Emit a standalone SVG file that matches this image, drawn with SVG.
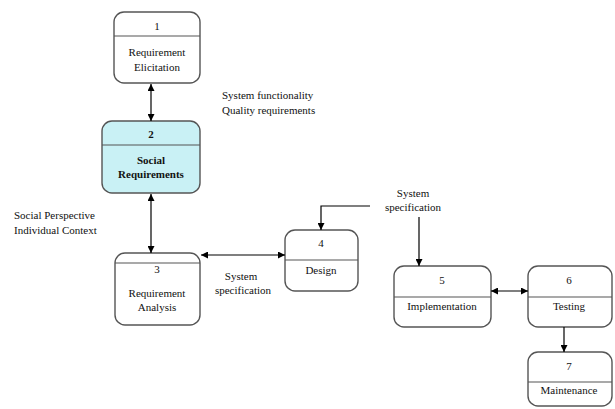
<svg xmlns="http://www.w3.org/2000/svg" width="615" height="409" viewBox="0 0 615 409" font-family="'Liberation Serif', 'Times New Roman', 'DejaVu Serif', serif" font-size="11">
  <defs>
    <marker id="arrow" viewBox="0 0 10 10" refX="10" refY="5" markerWidth="7" markerHeight="7" orient="auto-start-reverse" markerUnits="userSpaceOnUse">
      <path d="M0,0 L10,5 L0,10 z" fill="#000"/>
    </marker>
  </defs>
  <style>
    .box { fill: #ffffff; stroke: #555555; stroke-width: 1.4; }
    .hl { fill: #c9f1f5; }
    .div { stroke: #555555; stroke-width: 1.2; }
    text { fill: #111111; }
    .c { text-anchor: middle; }
    .b { font-weight: bold; }
    .ln { fill: none; stroke: #000000; stroke-width: 1.2; }
  </style>
  <rect width="615" height="409" fill="#ffffff"/>

  <g id="node1">
    <rect class="box" x="114" y="12" width="86" height="71" rx="10"/>
    <line class="div" x1="114" y1="36" x2="200" y2="36"/>
    <text class="c" x="157" y="30">1</text>
    <text class="c" x="157" y="56">Requirement</text>
    <text class="c" x="157" y="71">Elicitation</text>
  </g>

  <g id="node2">
    <rect class="box hl" x="102" y="121" width="98" height="72" rx="10"/>
    <line class="div" x1="102" y1="145" x2="200" y2="145"/>
    <text class="c b" x="151" y="138">2</text>
    <text class="c b" x="151" y="164">Social</text>
    <text class="c b" x="151" y="178">Requirements</text>
  </g>

  <g id="node3">
    <rect class="box" x="115" y="253" width="85" height="72" rx="10"/>
    <line class="div" x1="115" y1="263" x2="200" y2="263"/>
    <text class="c" x="157" y="273">3</text>
    <text class="c" x="157" y="297">Requirement</text>
    <text class="c" x="157" y="311">Analysis</text>
  </g>

  <g id="node4">
    <rect class="box" x="285" y="230" width="73" height="61" rx="10"/>
    <line class="div" x1="285" y1="260" x2="358" y2="260"/>
    <text class="c" x="321" y="247">4</text>
    <text class="c" x="321" y="274">Design</text>
  </g>

  <g id="node5">
    <rect class="box" x="394" y="266" width="97" height="61" rx="10"/>
    <line class="div" x1="394" y1="297" x2="491" y2="297"/>
    <text class="c" x="442" y="284">5</text>
    <text class="c" x="442" y="310">Implementation</text>
  </g>

  <g id="node6">
    <rect class="box" x="528" y="266" width="84" height="61" rx="10"/>
    <line class="div" x1="528" y1="297" x2="612" y2="297"/>
    <text class="c" x="569" y="284">6</text>
    <text class="c" x="569" y="310">Testing</text>
  </g>

  <g id="node7">
    <rect class="box" x="528" y="352" width="84" height="54" rx="10"/>
    <line class="div" x1="528" y1="382" x2="612" y2="382"/>
    <text class="c" x="569" y="370">7</text>
    <text class="c" x="569" y="394">Maintenance</text>
  </g>

  <g id="connectors">
    <line class="ln" x1="151" y1="84" x2="151" y2="121" marker-start="url(#arrow)" marker-end="url(#arrow)"/>
    <line class="ln" x1="151" y1="194" x2="151" y2="253" marker-start="url(#arrow)" marker-end="url(#arrow)"/>
    <line class="ln" x1="201" y1="255" x2="285" y2="255" marker-start="url(#arrow)" marker-end="url(#arrow)"/>
    <polyline class="ln" points="370,206 321,206 321,230" marker-end="url(#arrow)"/>
    <line class="ln" x1="419" y1="217" x2="419" y2="266" marker-end="url(#arrow)"/>
    <line class="ln" x1="491" y1="291" x2="528" y2="291" marker-start="url(#arrow)" marker-end="url(#arrow)"/>
    <line class="ln" x1="564" y1="327" x2="564" y2="352" marker-end="url(#arrow)"/>
  </g>

  <g id="labels">
    <text x="222" y="99">System functionality</text>
    <text x="222" y="114">Quality requirements</text>
    <text x="14" y="219">Social Perspective</text>
    <text x="14" y="234">Individual Context</text>
    <text class="c" x="241" y="280">System</text>
    <text class="c" x="243" y="294">specification</text>
    <text class="c" x="413" y="197">System</text>
    <text class="c" x="413" y="211">specification</text>
  </g>
</svg>
